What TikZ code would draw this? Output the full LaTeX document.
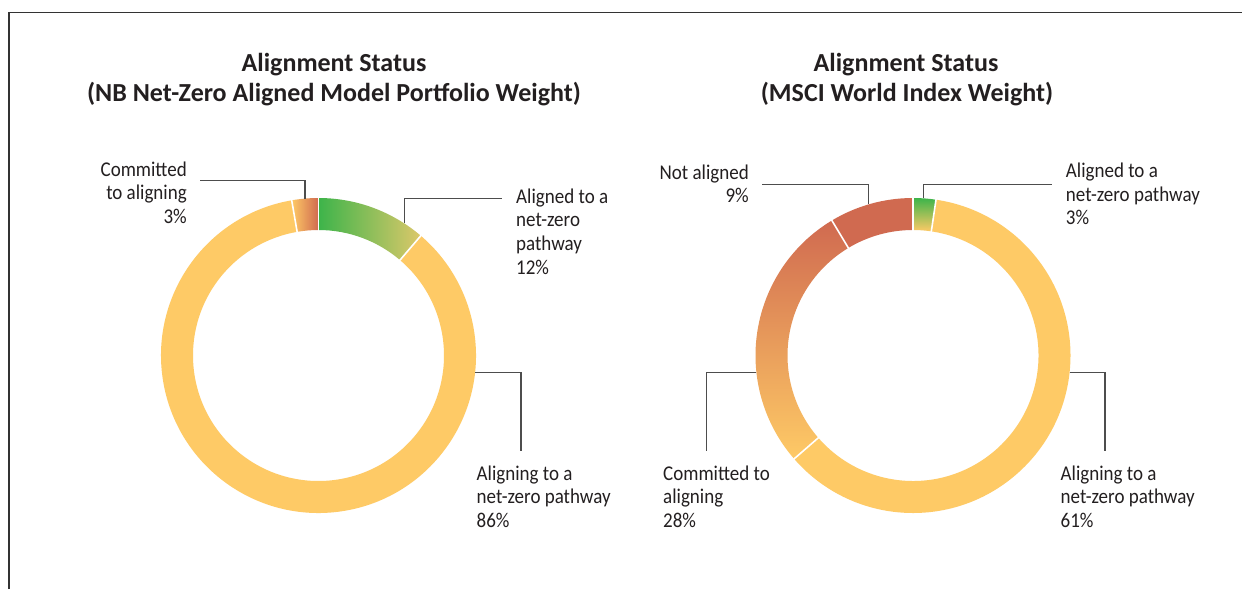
\documentclass[tikz,border=0pt]{standalone}
\usepackage{fontspec}
\setmainfont[FakeStretch=0.905]{Carlito}
\newfontfamily\titlefont{Carlito}
\definecolor{ylw}{HTML}{FECA66}
\definecolor{rd}{HTML}{D06A50}
\definecolor{grn}{HTML}{3DB44A}
\definecolor{olv}{HTML}{DCC86A}
\definecolor{org}{HTML}{DE8756}
\definecolor{ldr}{HTML}{4D4D4D}
\definecolor{txt}{HTML}{231F20}
\definecolor{frm}{HTML}{333333}
\newcommand\ringseg[3]{%
  \path[#3] (#1:157.5) arc[start angle=#1, end angle=#2, radius=157.5]
    -- (#2:125.5) arc[start angle=#2, end angle=#1, radius=125.5] -- cycle;}
\newcommand\segsep[1]{\draw[sep] (#1:124) -- (#1:159);}
\newcommand\lbllines[5]{%
  \foreach \t [count=\i] in {#5} {%
    \node[lbl, anchor=#4] (#1\i) at (#2,{-(#3)-23.7*(\i-1)}) {\t};}}
\begin{document}
\begin{tikzpicture}[x=1pt,y=1pt,
  lbl/.style={font=\fontsize{21}{24}\selectfont, text=txt, inner sep=0pt},
  ttl/.style={font=\titlefont\bfseries\fontsize{26}{30}\selectfont, text=txt, inner sep=0pt, anchor=base},
  leader/.style={draw=ldr, line width=1.2pt},
  sep/.style={draw=white, line width=1.6pt}]
\useasboundingbox (0,0) rectangle (1242,-589);
\fill[white] (0,0) rectangle (1242,-589);
\draw[frm, line width=1.3pt] (9,-589) -- (9,-12.3) -- (1242,-12.3);

% titles
\node[ttl] (t1a) at (334,-71.7) {Alignment Status};
\node[ttl] (t1b) at (334,-101.7) {(NB Net-Zero Aligned Model Portfolio Weight)};
\node[ttl] (t2a) at (906,-71.7) {Alignment Status};
\node[ttl] (t2b) at (907,-101.7) {(MSCI World Index Weight)};

% left donut
\begin{scope}[shift={(318.5,-355.5)}]
  \ringseg{99.8}{409.5}{fill=ylw}
  \ringseg{49.5}{90}{left color=grn, right color=olv}
  \ringseg{90}{99.8}{left color=ylw, right color=rd}
  \segsep{49.5}\segsep{90}\segsep{99.8}
\end{scope}

% right donut
\begin{scope}[shift={(913,-355.5)}]
  \ringseg{-139}{81.6}{fill=ylw}
  \ringseg{81.6}{90}{top color=grn, bottom color=ylw}
  \ringseg{121}{221}{top color=rd, middle color=org, bottom color=ylw}
  \ringseg{90}{121}{fill=rd}
  \segsep{81.6}\segsep{90}\segsep{121}\segsep{221}
\end{scope}

% leader lines
\coordinate (lc0) at (305,-198.6);
\coordinate (lc2) at (200,-180.7);
\draw[leader] (lc0) |- (lc2);
\coordinate (lg0) at (404.5,-223);
\coordinate (lg2) at (501.7,-198.3);
\draw[leader] (lg0) |- (lg2);
\coordinate (la0) at (475,-372.7);
\coordinate (la2) at (521,-450.7);
\draw[leader] (la0) -| (la2);
\coordinate (rn0) at (868.3,-204);
\coordinate (rn2) at (762,-184.3);
\draw[leader] (rn0) |- (rn2);
\coordinate (rg0) at (923.3,-198.3);
\coordinate (rg2) at (1051.7,-184.3);
\draw[leader] (rg0) |- (rg2);
\coordinate (rc0) at (756.4,-372.7);
\coordinate (rc2) at (706.7,-450.7);
\draw[leader] (rc0) -| (rc2);
\coordinate (ra0) at (1069.6,-372.7);
\coordinate (ra2) at (1105,-450.7);
\draw[leader] (ra0) -| (ra2);

% labels
\lbllines{lcl}{187}{176}{base east}{Committed,to aligning,3\%}
\lbllines{lgl}{516}{203}{base west}{Aligned to a,net-zero,pathway,12\%}
\lbllines{lal}{476.5}{480}{base west}{Aligning to a,net-zero pathway,86\%}
\lbllines{rnl}{749}{179}{base east}{Not aligned,9\%}
\lbllines{rgl}{1065.7}{177.3}{base west}{Aligned to a,net-zero pathway,3\%}
\lbllines{rcl}{663}{480}{base west}{Committed to,aligning,28\%}
\lbllines{ral}{1060.5}{480}{base west}{Aligning to a,net-zero pathway,61\%}
\end{tikzpicture}
\end{document}
